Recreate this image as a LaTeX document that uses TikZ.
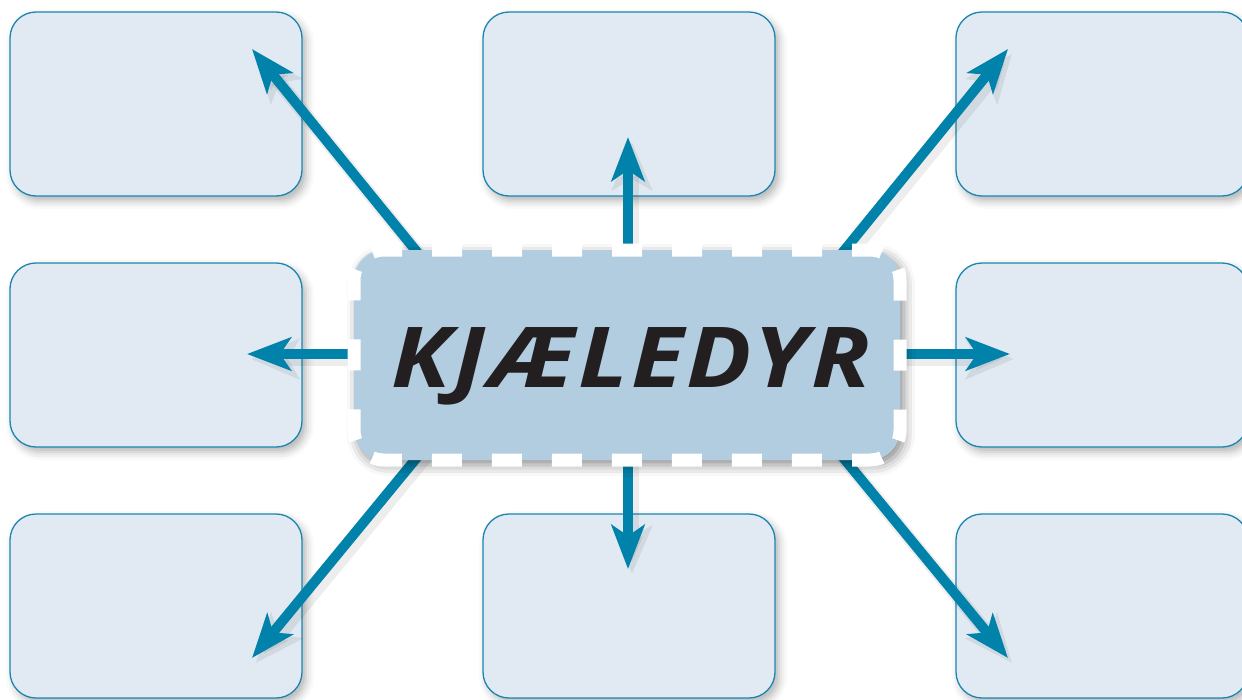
\documentclass[tikz,border=0pt]{standalone}
\usepackage{fontspec}
\newfontfamily\titlefont[LetterSpace=3]{Open Sans}
\usetikzlibrary{arrows.meta,shadows.blur}
\definecolor{boxfill}{HTML}{E1EAF2}
\definecolor{boxline}{HTML}{1A86B0}
\definecolor{arrowcol}{HTML}{0082AA}
\definecolor{centerfill}{HTML}{B2CCE0}
\definecolor{textcol}{HTML}{231F20}
\tikzset{
  emptybox/.style={draw=boxline, line width=1.3pt, fill=boxfill, rounded corners=26pt,
    minimum width=292pt, minimum height=184pt, inner sep=0pt,
    blur shadow={shadow xshift=4pt, shadow yshift=-5pt, shadow blur radius=8pt, shadow opacity=30}},
  centerbox/.style={fill=centerfill, rounded corners=30pt, minimum width=546pt, minimum height=210pt, inner sep=0pt,
    blur shadow={shadow xshift=4pt, shadow yshift=-5pt, shadow blur radius=11pt, shadow opacity=45}},
  hdash/.style={draw=white, line width=13pt, dash pattern=on 30pt off 30pt, dash phase=48.44pt},
  vdash/.style={draw=white, line width=13pt, dash pattern=on 31pt off 39pt, dash phase=56.94pt},
  bigarrow/.style={draw=arrowcol, line width=10pt,
    -{Stealth[length=44pt, width=33pt, inset=11pt]}},
  arrowshadow/.style={draw=black, opacity=0.07, line width=14pt,
    -{Stealth[length=48pt, width=40pt, inset=11pt]}, transform canvas={shift={(4pt,-5pt)}}}
}
\begin{document}
\begin{tikzpicture}[x=1pt,y=-1pt]
\useasboundingbox (0,0) rectangle (1242,699);
% boxes
\node[emptybox] (b1) at (156,104) {};
\node[emptybox] (b2) at (629,104) {};
\node[emptybox] (b3) at (1102,104) {};
\node[emptybox] (b4) at (156,355) {};
\node[emptybox] (b6) at (1102,355) {};
\node[emptybox] (b7) at (156,606) {};
\node[emptybox] (b8) at (629,606) {};
\node[emptybox] (b9) at (1102,606) {};
% arrow end points
\coordinate (s1) at (456,300); \coordinate (t1) at (252,49);
\coordinate (s2) at (628,300); \coordinate (t2) at (628,137);
\coordinate (s3) at (804,300); \coordinate (t3) at (1008,49);
\coordinate (s4) at (450,354); \coordinate (t4) at (247,354);
\coordinate (s6) at (810,354); \coordinate (t6) at (1010,354);
\coordinate (s7) at (456,410); \coordinate (t7) at (252,658);
\coordinate (s8) at (628,410); \coordinate (t8) at (628,569);
\coordinate (s9) at (804,410); \coordinate (t9) at (1008,658);
\foreach \i in {1,2,3,4,6,7,8,9}{
  \draw[arrowshadow] (s\i) -- (t\i);
}
\foreach \i in {1,2,3,4,6,7,8,9}{
  \draw[bigarrow] (s\i) -- (t\i);
}
% central node
\node[centerbox] (c) at (627,355) {};
% dashed white border, drawn side by side from the middle of each corner
\begin{scope}[x=1pt,y=1pt]
\draw[hdash] (362.79,-258.79) arc[start angle=135, end angle=90, radius=30pt]
  -- (870,-250) arc[start angle=90, end angle=45, radius=30pt];
\draw[hdash] (891.21,-451.21) arc[start angle=-45, end angle=-90, radius=30pt]
  -- (384,-460) arc[start angle=-90, end angle=-135, radius=30pt];
\draw[vdash] (891.21,-258.79) arc[start angle=45, end angle=0, radius=30pt]
  -- (900,-430) arc[start angle=0, end angle=-45, radius=30pt];
\draw[vdash] (362.79,-451.21) arc[start angle=-135, end angle=-180, radius=30pt]
  -- (354,-280) arc[start angle=180, end angle=135, radius=30pt];
\end{scope}
\node[text=textcol, font=\titlefont\bfseries\itshape\fontsize{84}{84}\selectfont, inner sep=0pt, anchor=base, xscale=1.15]
  (title) at (631,387) {KJÆLEDYR};
\end{tikzpicture}
\end{document}
